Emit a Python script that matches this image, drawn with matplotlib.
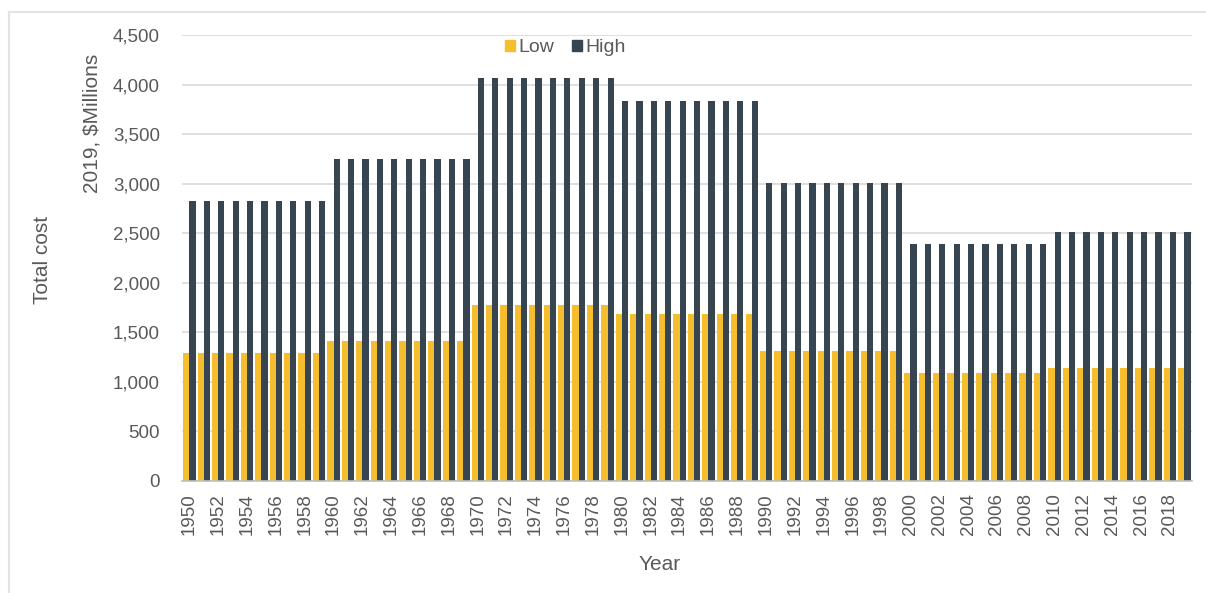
import matplotlib.pyplot as plt
import numpy as np
from matplotlib.lines import Line2D
from matplotlib.patches import Patch

plt.rcParams["font.family"] = ["Liberation Sans", "DejaVu Sans"]

years = list(range(1950, 2020))

# Annual total cost, 2019 $ millions
low = [
    1290, 1290, 1290, 1290, 1290, 1290, 1290, 1290, 1290, 1290,
    1410, 1410, 1410, 1410, 1410, 1410, 1410, 1410, 1410, 1410,
    1780, 1780, 1780, 1780, 1780, 1780, 1780, 1780, 1780, 1780,
    1680, 1680, 1680, 1680, 1680, 1680, 1680, 1680, 1680, 1680,
    1310, 1310, 1310, 1310, 1310, 1310, 1310, 1310, 1310, 1310,
    1090, 1090, 1090, 1090, 1090, 1090, 1090, 1090, 1090, 1090,
    1140, 1140, 1140, 1140, 1140, 1140, 1140, 1140, 1140, 1140,
]
high = [
    2820, 2820, 2820, 2820, 2820, 2820, 2820, 2820, 2820, 2820,
    3250, 3250, 3250, 3250, 3250, 3250, 3250, 3250, 3250, 3250,
    4070, 4070, 4070, 4070, 4070, 4070, 4070, 4070, 4070, 4070,
    3830, 3830, 3830, 3830, 3830, 3830, 3830, 3830, 3830, 3830,
    3010, 3010, 3010, 3010, 3010, 3010, 3010, 3010, 3010, 3010,
    2390, 2390, 2390, 2390, 2390, 2390, 2390, 2390, 2390, 2390,
    2510, 2510, 2510, 2510, 2510, 2510, 2510, 2510, 2510, 2510,
]
yticks = [0, 500, 1000, 1500, 2000, 2500, 3000, 3500, 4000, 4500]

LOW_COLOR = "#F4BE2F"
HIGH_COLOR = "#36454F"
TEXT_COLOR = "#595959"
GRID_COLOR = "#D9D9D9"

fig = plt.figure(figsize=(12.06, 5.93), dpi=100)
ax = fig.add_axes([0.151, 0.189, 0.837, 0.752])

x = np.arange(len(years))
w = 0.43
ax.bar(x - w / 2, low, width=w, color=LOW_COLOR, zorder=3)
ax.bar(x + w / 2, high, width=w, color=HIGH_COLOR, zorder=3)

ax.set_xlim(-0.5, len(years) - 0.5)
ax.set_ylim(0, 4500)
ax.set_yticks(yticks)
ax.set_yticklabels([f"{v:,}" for v in yticks])
ax.set_xticks(x[::2])
ax.set_xticklabels([str(y) for y in years[::2]], rotation=90)
ax.tick_params(axis="y", length=0, pad=16, labelsize=13.5, labelcolor=TEXT_COLOR)
ax.tick_params(axis="x", length=0, pad=9, labelsize=13.5, labelcolor=TEXT_COLOR)

ax.grid(axis="y", color=GRID_COLOR, linewidth=1.2, zorder=0)
for side in ["top", "right", "left"]:
    ax.spines[side].set_visible(False)
ax.spines["bottom"].set_color("#BFBFBF")
ax.spines["bottom"].set_linewidth(1.2)
ax.spines["bottom"].set_zorder(4)

handles = [Patch(color=LOW_COLOR, label="Low"), Patch(color=HIGH_COLOR, label="High")]
fig.legend(
    handles=handles,
    loc="center",
    bbox_to_anchor=(565 / 1206, 1 - 48 / 593),
    ncol=2,
    frameon=False,
    fontsize=14,
    handlelength=0.55,
    handleheight=0.55,
    handletextpad=0.15,
    columnspacing=0.9,
    labelcolor=TEXT_COLOR,
)

fig.text(42 / 1206, 1 - 260 / 593, "Total cost", rotation=90, ha="center", va="center",
         fontsize=15, color=TEXT_COLOR)
fig.text(92 / 1206, 1 - 123 / 593, "2019, $Millions", rotation=90, ha="center", va="center",
         fontsize=15, color=TEXT_COLOR)
fig.text(660 / 1206, 1 - 565 / 593, "Year", ha="center", va="center",
         fontsize=15, color=TEXT_COLOR)

# thin chart-area frame along the top and left edges
fig.add_artist(Line2D([9 / 1206, 1], [1 - 12 / 593] * 2, transform=fig.transFigure,
                      color="#E3E3E3", linewidth=1.5))
fig.add_artist(Line2D([9 / 1206] * 2, [0, 1 - 12 / 593], transform=fig.transFigure,
                      color="#E3E3E3", linewidth=1.5))

fig.savefig("out.png", dpi=100)
